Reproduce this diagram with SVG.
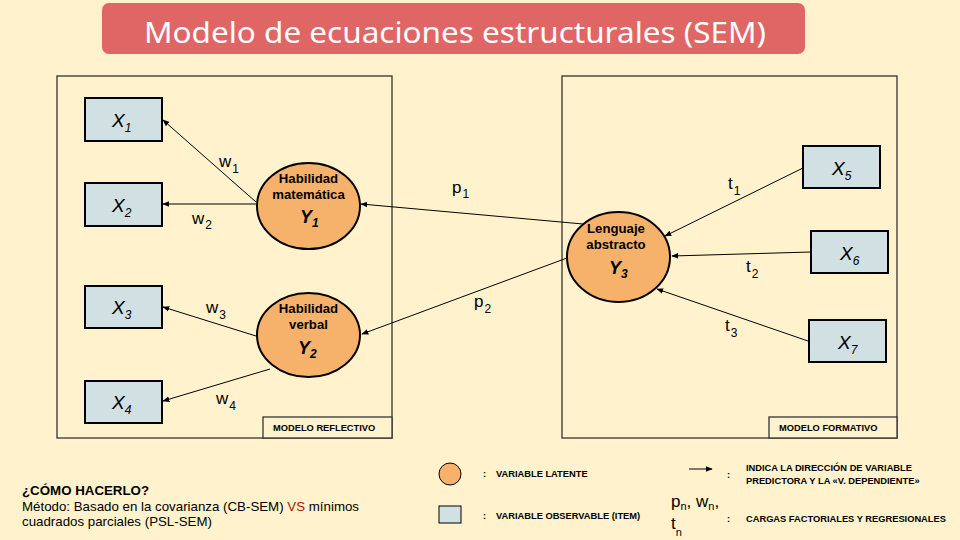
<svg xmlns="http://www.w3.org/2000/svg" width="960" height="540" viewBox="0 0 960 540">
<defs>
<marker id="ah" viewBox="0 0 10 10" refX="9" refY="5" markerWidth="7" markerHeight="7" orient="auto" markerUnits="userSpaceOnUse">
<path d="M0,1 L10,5 L0,9 z" fill="#000"/>
</marker>
<style>
.frame{fill:none;stroke:#333;stroke-width:1.3}
.tag{fill:#FFF2CC;stroke:#333;stroke-width:1.3}
.tagt{font-family:"Liberation Sans",Arial,sans-serif;font-size:9.3px;font-weight:bold;fill:#000}
.obs{fill:#D0E0E3;stroke:#000;stroke-width:2}
.lat{fill:#F6B26B;stroke:#000;stroke-width:2}
.xt{font-family:"Liberation Sans",Arial,sans-serif;font-style:italic;font-size:19px;fill:#000}
.xs{font-size:12px}
.lt{font-family:"Liberation Sans",Arial,sans-serif;font-weight:bold;font-size:13.2px;fill:#000;text-anchor:middle}
.yt{font-family:"Liberation Sans",Arial,sans-serif;font-weight:bold;font-style:italic;font-size:18px;fill:#000}
.ys{font-size:12px}
.conn line{stroke:#000;stroke-width:1;marker-end:url(#ah)}
.el{font-family:"Liberation Sans",Arial,sans-serif;font-size:17px;fill:#000}
.es{font-size:12px}
.leg{font-family:"Liberation Sans",Arial,sans-serif;font-weight:bold;font-size:9.3px;fill:#000}
.bt{font-family:"Liberation Sans",Arial,sans-serif;font-size:13.3px;fill:#000}
</style>
</defs>
<rect x="0" y="0" width="960" height="540" fill="#FFF2CC"/>
<g id="title">
<rect x="102" y="3" width="703" height="51" rx="7" fill="#E06666"/>
<text x="455" y="43" text-anchor="middle" font-family="'Noto Sans',Lato,sans-serif" font-size="29" fill="#fff" textLength="622" lengthAdjust="spacingAndGlyphs">Modelo de ecuaciones estructurales (SEM)</text>
</g>
<g id="reflectivo">
<rect class="frame" x="57" y="76" width="335" height="362"/>
<rect class="tag" x="263" y="417" width="129" height="21"/>
<text class="tagt" x="273" y="431">MODELO REFLECTIVO</text>
</g>
<g id="formativo">
<rect class="frame" x="562" y="76" width="335" height="362"/>
<rect class="tag" x="769" y="417" width="128" height="21"/>
<text class="tagt" x="779" y="431">MODELO FORMATIVO</text>
</g>
<g id="conectores" class="conn">
<line x1="256" y1="202" x2="163" y2="120"/>
<line x1="256" y1="204" x2="163" y2="204"/>
<line x1="256" y1="336" x2="163" y2="307"/>
<line x1="270" y1="369" x2="163" y2="401"/>
<line x1="583" y1="224" x2="361" y2="204"/>
<line x1="567" y1="258" x2="362" y2="334"/>
<line x1="803" y1="168" x2="665" y2="236"/>
<line x1="811" y1="252" x2="672" y2="256"/>
<line x1="808" y1="341" x2="657" y2="289"/>
</g>
<g id="etiquetas">
<text class="el" x="219" y="167">w<tspan class="es" dx="1" dy="6">1</tspan></text>
<text class="el" x="192" y="224">w<tspan class="es" dx="1" dy="5">2</tspan></text>
<text class="el" x="206" y="313">w<tspan class="es" dx="1" dy="6">3</tspan></text>
<text class="el" x="216" y="404">w<tspan class="es" dx="1" dy="6">4</tspan></text>
<text class="el" x="452" y="193">p<tspan class="es" dx="1" dy="5">1</tspan></text>
<text class="el" x="474" y="307">p<tspan class="es" dx="1" dy="6">2</tspan></text>
<text class="el" x="728" y="189">t<tspan class="es" dx="1" dy="6">1</tspan></text>
<text class="el" x="746" y="272">t<tspan class="es" dx="1" dy="6">2</tspan></text>
<text class="el" x="725" y="331">t<tspan class="es" dx="1" dy="6">3</tspan></text>
</g>
<g id="X1"><rect class="obs" x="85" y="98" width="77" height="43"/><text class="xt" x="112" y="127">X<tspan class="xs" dy="5">1</tspan></text></g>
<g id="X2"><rect class="obs" x="85" y="183" width="77" height="43"/><text class="xt" x="112" y="212">X<tspan class="xs" dy="5">2</tspan></text></g>
<g id="X3"><rect class="obs" x="85" y="286" width="77" height="42"/><text class="xt" x="112" y="314">X<tspan class="xs" dy="5">3</tspan></text></g>
<g id="X4"><rect class="obs" x="85" y="381" width="77" height="42"/><text class="xt" x="112" y="409">X<tspan class="xs" dy="5">4</tspan></text></g>
<g id="X5"><rect class="obs" x="803" y="146" width="77" height="42"/><text class="xt" x="832" y="175">X<tspan class="xs" dy="5">5</tspan></text></g>
<g id="X6"><rect class="obs" x="811" y="231" width="77" height="42"/><text class="xt" x="840" y="260">X<tspan class="xs" dy="5">6</tspan></text></g>
<g id="X7"><rect class="obs" x="809" y="320" width="77" height="42"/><text class="xt" x="838" y="349">X<tspan class="xs" dy="5">7</tspan></text></g>
<g id="Y1">
<ellipse class="lat" cx="308.5" cy="206" rx="51.5" ry="43"/>
<text class="lt" x="308.5" y="183">Habilidad</text>
<text class="lt" x="308.5" y="199">matemática</text>
<text class="yt" x="300" y="223">Y<tspan class="ys" dy="4">1</tspan></text>
</g>
<g id="Y2">
<ellipse class="lat" cx="308.5" cy="335" rx="51.5" ry="42"/>
<text class="lt" x="308.5" y="313">Habilidad</text>
<text class="lt" x="308.5" y="329">verbal</text>
<text class="yt" x="298" y="354">Y<tspan class="ys" dy="4">2</tspan></text>
</g>
<g id="Y3">
<ellipse class="lat" cx="618.5" cy="257" rx="51.5" ry="45"/>
<text class="lt" x="616" y="233">Lenguaje</text>
<text class="lt" x="616" y="249">abstracto</text>
<text class="yt" x="609" y="274">Y<tspan class="ys" dy="4">3</tspan></text>
</g>
<g id="leyenda">
<circle cx="450" cy="474" r="11" fill="#F6B26B" stroke="#000" stroke-width="1"/>
<rect x="439" y="506" width="22" height="17" fill="#D0E0E3" stroke="#000" stroke-width="1"/>
<text class="leg" x="483" y="477">:</text>
<text class="leg" x="496" y="477">VARIABLE LATENTE</text>
<text class="leg" x="483" y="519">:</text>
<text class="leg" x="496" y="519">VARIABLE OBSERVABLE (ITEM)</text>
<line x1="689" y1="469" x2="712" y2="469" stroke="#000" stroke-width="1" marker-end="url(#ah)"/>
<text class="leg" x="727" y="478">:</text>
<text class="leg" x="746" y="471">INDICA LA DIRECCIÓN DE VARIABLE</text>
<text class="leg" x="746" y="484">PREDICTORA Y LA «V. DEPENDIENTE»</text>
<text font-family="'Liberation Sans',Arial,sans-serif" font-size="17" x="671" y="507">p<tspan font-size="11" dy="3">n</tspan><tspan dy="-3">, w</tspan><tspan font-size="11" dy="3">n</tspan><tspan dy="-3">,</tspan></text>
<text font-family="'Liberation Sans',Arial,sans-serif" font-size="17" x="671" y="529">t<tspan font-size="11" dy="7">n</tspan></text>
<text class="leg" x="727" y="522">:</text>
<text class="leg" x="746" y="522">CARGAS FACTORIALES Y REGRESIONALES</text>
</g>
<g id="como">
<text class="bt" x="22" y="495" font-weight="bold">¿CÓMO HACERLO?</text>
<text class="bt" x="22" y="511">Método: Basado en la covarianza (CB-SEM) <tspan fill="#A61C00">VS</tspan> mínimos</text>
<text class="bt" x="22" y="526">cuadrados parciales (PSL-SEM)</text>
</g>
</svg>
